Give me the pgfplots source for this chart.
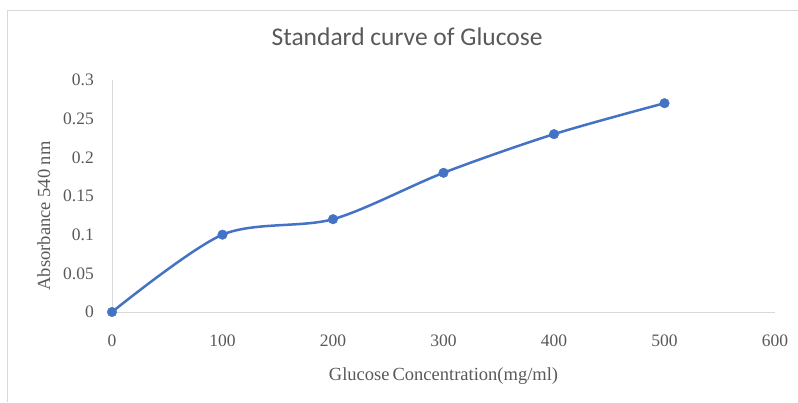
\documentclass[border=0pt]{standalone}
\usepackage{fontspec}
\setmainfont{Liberation Serif}
\newfontfamily\titlefont{Carlito}
\usepackage{pgfplots}
\pgfplotsset{compat=1.18}
\definecolor{txt}{HTML}{595959}
\definecolor{axl}{HTML}{D9D9D9}
\definecolor{ser}{HTML}{4472C4}
\begin{document}
\begin{tikzpicture}[x=1pt,y=1pt]
\useasboundingbox (0,0) rectangle (798,402);
\draw[axl, line width=1pt] (7,0) -- (7,391) -- (798,391);
\begin{axis}[
  at={(112pt,90pt)}, anchor=south west,
  scale only axis, width=663pt, height=232pt,
  xmin=0, xmax=600, ymin=0, ymax=0.3,
  xtick={0,100,...,600},
  ytick={0,0.05,0.1,0.15,0.2,0.25,0.3},
  axis x line=bottom, axis y line=left,
  axis line style={axl, line width=1pt, -},
  major tick length=0pt,
  tick label style={txt, font=\fontsize{17.5}{20}\selectfont, /pgf/number format/assume math mode=true},
  xticklabel style={anchor=base, yshift=-34pt, inner sep=0pt},
  yticklabel style={anchor=east, xshift=-18pt, inner sep=0pt, /pgf/number format/fixed, /pgf/number format/precision=2},
  title={\titlefont Standard curve of Glucose},
  title style={txt, font=\fontsize{25.5}{28}\selectfont, at={(axis description cs:0.445,1.121)}, anchor=base, inner sep=0pt},
  xlabel={Glucose\,Concentration(mg/ml)},
  xlabel style={txt, font=\fontsize{18.5}{21}\selectfont, at={(axis description cs:0.5,-0.297)}, anchor=base, inner sep=0pt},
  ylabel={Absorbance 540 nm},
  ylabel style={txt, font=\fontsize{18.5}{21}\selectfont, at={(axis description cs:-0.0935,0.414)}, anchor=base, inner sep=0pt},
  clip=false,
]
\addplot[ser, line width=2.5pt, smooth, tension=0.5, mark=*, mark size=4.8pt, mark options={solid, draw=ser, fill=ser, line width=0.4pt}]
  coordinates {(0,0) (100,0.1) (200,0.12) (300,0.18) (400,0.23) (500,0.27)};
\end{axis}
\end{tikzpicture}
\end{document}
